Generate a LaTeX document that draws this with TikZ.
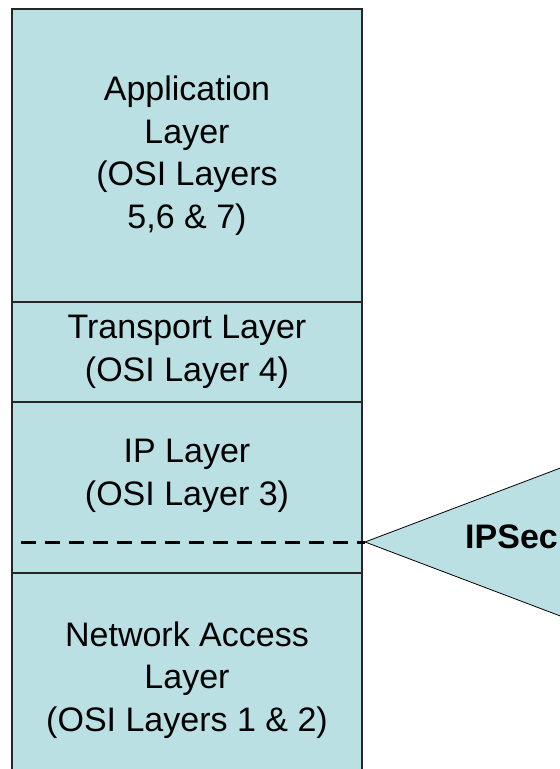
\documentclass[tikz,border=0pt]{standalone}
\usepackage{fontspec}
\setmainfont{Liberation Sans}
\usetikzlibrary{positioning}
\definecolor{stackblue}{RGB}{186,224,228}

\begin{document}
\begin{tikzpicture}[x=1pt, y=1pt, node distance=0pt,
    layerbox/.style={draw=black!85, line width=1.2pt, fill=stackblue, minimum width=350pt, inner sep=0pt, outer sep=0pt, align=center, font=\fontsize{34}{42.5}\selectfont},
    layertext/.style={align=center, font=\fontsize{34}{42.5}\selectfont}]
    \useasboundingbox (0,0) rectangle (560,-769);
    \clip (0,0) rectangle (560,-769);

    % the protocol stack, top to bottom
    \node[layerbox, anchor=north west, minimum height=293pt] (app) at (12,-9) {Application\\Layer\\(OSI Layers\\5,6 \& 7)};
    \node[layerbox, below=of app, minimum height=100pt] (trans) {Transport Layer\\(OSI Layer 4)};
    \node[layerbox, below=of trans, minimum height=171pt] (ip) {};
    \node[layerbox, below=of ip, minimum height=214pt] (net) {Network Access\\Layer\\(OSI Layers 1 \& 2)};
    \node[layertext, below=34pt of ip.north] (iptext) {IP Layer\\(OSI Layer 3)};

    % ipsec callout
    \coordinate (tip) at ([xshift=3pt]ip.east |- 0,-542);
    \draw[black, line width=0.8pt, fill=stackblue] (tip) -- ++(235,89) -- ++(0,-178) -- cycle;
    \node[font=\fontsize{34}{40}\selectfont\bfseries, anchor=base west, inner sep=0pt] (ipsec) at (465,-548) {IPSec};
    \draw[line width=3pt, dash pattern=on 15pt off 9pt] ([xshift=9pt]ip.west |- tip) -- (tip);
\end{tikzpicture}
\end{document}
